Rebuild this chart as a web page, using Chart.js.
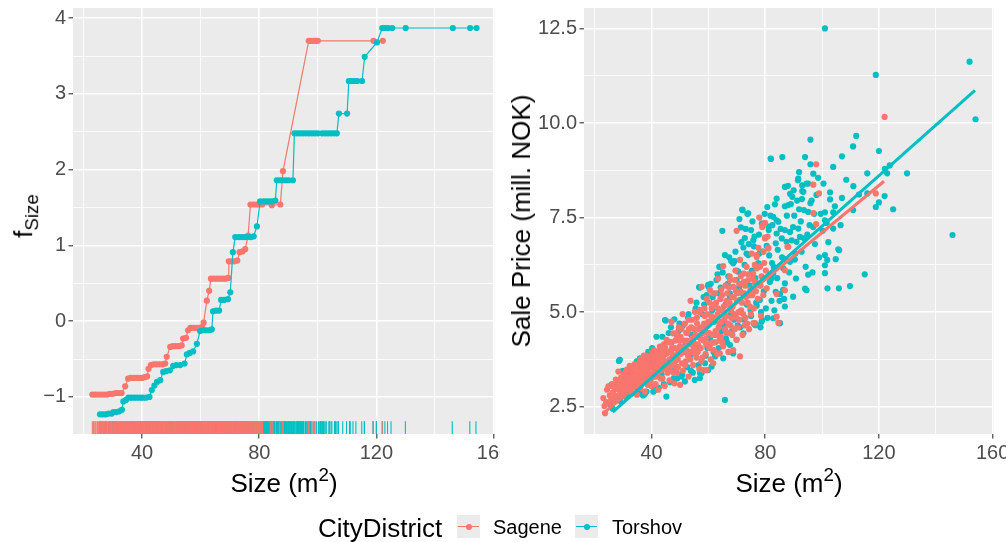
<!DOCTYPE html>
<html>
<head>
<meta charset="utf-8">
<script src="https://cdn.jsdelivr.net/npm/chart.js@4.4.1/dist/chart.umd.min.js"></script>
<style>
  html, body { margin: 0; padding: 0; background: #ffffff; }
  #page { position: relative; width: 1006px; height: 542px; overflow: hidden;
          font-family: "Liberation Sans", Arial, Helvetica, sans-serif; }
  canvas { position: absolute; top: 0; }
  .lbl { position: absolute; white-space: nowrap; color: #000; line-height: 1;
         transform: translate(-50%, -50%); }
  .rot { transform: translate(-50%, -50%) rotate(-90deg); }
  .title { font-size: 26px; }
  .lbl sub { font-size: 0.72em; vertical-align: -0.32em; }
  .lbl sup { font-size: 0.72em; vertical-align: 0.55em; }
  .legtxt { position: absolute; white-space: nowrap; line-height: 1; transform: translateY(-50%); color: #000; }
  .key { position: absolute; top: 515px; width: 23px; height: 23px; background: #EBEBEB; }
  .key .kl { position: absolute; left: 1px; right: 1px; top: 10.9px; height: 1.2px; }
  .key .kd { position: absolute; left: 8.5px; top: 8.5px; width: 6px; height: 6px; border-radius: 50%; }
</style>
</head>
<body>
<div id="page">
  <canvas id="effectChart" width="500" height="500" style="left:0px"></canvas>
  <canvas id="priceChart" width="506" height="500" style="left:500px"></canvas>

  <div class="lbl rot title" style="left:26px; top:216px;">f<sub>Size</sub></div>
  <div class="lbl title" style="left:284px; top:481px;">Size (m<sup>2</sup>)</div>
  <div class="lbl rot title" style="left:521px; top:221px;">Sale Price (mill. NOK)</div>
  <div class="lbl title" style="left:789px; top:481px;">Size (m<sup>2</sup>)</div>

  <div class="legtxt" style="left:318px; top:528px; font-size:26px;">CityDistrict</div>
  <div class="key" style="left:457px;"><span class="kl" style="background:#F8766D"></span><span class="kd" style="background:#F8766D"></span></div>
  <div class="legtxt" style="left:493px; top:527px; font-size:20px;">Sagene</div>
  <div class="key" style="left:575px;"><span class="kl" style="background:#00BFC4"></span><span class="kd" style="background:#00BFC4"></span></div>
  <div class="legtxt" style="left:612px; top:527px; font-size:20px;">Torshov</div>
</div>

<script>
// ---- districts ----
const districts = ['Sagene', 'Torshov'];

// ---- effect of size on price, per district: [size m2, f_Size] ----
const sageneEffect = [
  [23,-0.97],[24,-0.97],[25,-0.97],[26,-0.97],[27,-0.97],[28,-0.97],[29,-0.96],[30,-0.96],[31,-0.95],[32,-0.95],
  [33,-0.95],[34.2,-0.86],[35.2,-0.76],[36,-0.75],[37,-0.75],[38,-0.75],[39,-0.75],[40,-0.75],[41,-0.74],[41.7,-0.73],
  [42.2,-0.63],[43,-0.58],[44,-0.57],[45,-0.57],[46,-0.57],[47,-0.57],[47.9,-0.56],[48.4,-0.47],[49.6,-0.34],[50.5,-0.33],
  [51.5,-0.33],[52.5,-0.33],[53.5,-0.32],[54,-0.23],[55,-0.22],[55.7,-0.12],[56.5,-0.09],[57.5,-0.09],[58.5,-0.09],[59.5,-0.09],
  [60.5,-0.08],[61,-0.02],[62.1,0.27],[62.9,0.40],[63.5,0.56],[64.5,0.56],[65.5,0.56],[66.5,0.56],[67.5,0.56],[68.5,0.56],
  [69.4,0.57],[69.6,0.79],[70.5,0.79],[71.5,0.79],[72.5,0.80],[73.3,0.91],[74.3,0.92],[75.2,0.95],[76.2,1.13],[77,1.54],
  [78,1.54],[79,1.54],[80,1.54],[81,1.54],[84.3,1.53],[87.2,1.54],[88.1,1.98],[96.9,3.70],[97.7,3.70],[98.5,3.70],
  [99.3,3.70],[100,3.70],[119,3.70],[122.2,3.70]
];
const torshovEffect = [
  [25.6,-1.23],[26.5,-1.23],[27.5,-1.23],[28.5,-1.22],[29.6,-1.22],[30.2,-1.20],[31.2,-1.20],[32.2,-1.19],[33.1,-1.17],[33.6,-1.06],
  [34.5,-1.04],[35.3,-1.01],[36.3,-1.01],[37.3,-1.01],[38.3,-1.01],[39.3,-1.01],[40.3,-1.01],[41.3,-1.01],[42.5,-1.00],[43.3,-0.91],
  [44.2,-0.85],[45.1,-0.80],[46.2,-0.78],[47.2,-0.67],[48.2,-0.66],[49.5,-0.65],[50.6,-0.59],[51.7,-0.58],[53,-0.58],[54.5,-0.56],
  [55.3,-0.44],[56.3,-0.42],[57.4,-0.40],[58.7,-0.30],[59.8,-0.13],[61,-0.12],[62,-0.12],[63,-0.12],[63.8,-0.11],[64.2,0.13],
  [65.3,0.14],[66.3,0.14],[67,0.28],[68,0.28],[69.3,0.29],[70.1,0.38],[71,0.91],[71.8,1.11],[73,1.11],[74,1.11],
  [75,1.11],[76,1.11],[77.2,1.11],[78.1,1.12],[79.2,1.25],[80.3,1.58],[81.5,1.58],[82.5,1.58],[83.5,1.58],[84.5,1.58],
  [85.5,1.59],[86,1.86],[87,1.86],[88,1.86],[89,1.86],[90,1.86],[91.5,1.86],[92,2.48],[93,2.48],[94,2.48],
  [95,2.48],[96,2.48],[97,2.48],[98,2.48],[99,2.48],[100,2.48],[101.5,2.48],[102.5,2.48],[103.5,2.48],[104.5,2.48],
  [105.5,2.48],[106.5,2.48],[107.2,2.74],[110,2.74],[110.6,3.17],[111.5,3.17],[112.5,3.17],[113.5,3.17],[115.1,3.17],[116,3.49],
  [120.2,3.68],[122,3.87],[123,3.87],[124,3.87],[125.4,3.87],[130,3.87],[146.1,3.87],[152,3.87],[154.2,3.87]
];

// ---- sales: [size m2, sale price in mill. NOK] ----
const sageneSales = [
  [23.0,2.73],[23.4,2.52],[23.6,2.33],[24.0,2.62],[24.3,2.95],[24.8,3.04],[25.0,2.58],[25.3,2.80],[25.8,2.70],[26.0,3.10],
  [26.4,2.88],[26.8,2.64],[27.0,3.00],[27.4,3.22],[27.8,2.78],[28.0,2.96],[28.3,3.43],[28.6,3.10],[29.0,2.85],[29.3,3.28],
  [29.7,3.05],[30.0,2.80],[30.2,3.35],[30.6,3.15],
  [31.0,2.92],[31.3,3.48],[31.6,3.20],[32.0,3.05],[32.3,3.58],[32.6,3.30],[33.0,2.88],[33.2,3.42],[33.6,3.15],[34.0,3.62],
  [34.1,3.04],[34.5,3.35],[34.8,2.82],[35.0,3.50],[35.4,3.22],[35.8,3.68],[36.0,3.00],[36.3,3.40],[36.7,3.12],[37.0,3.74],
  [37.2,3.55],[37.6,2.90],[38.0,3.30],[38.3,3.62],[38.6,3.08],[39.0,3.45],[39.3,3.80],[39.6,3.18],[40.0,3.92],[40.0,3.04],
  [40.3,3.55],
  [40.7,3.30],[41.0,3.72],[41.4,3.10],[41.8,3.95],[42.0,3.45],[42.3,2.95],[42.6,3.65],[42.9,4.09],[43.2,3.25],[43.6,3.80],
  [44.0,3.50],[44.3,4.15],[44.6,3.05],[45.0,3.70],[45.3,4.27],[45.6,3.40],[46.0,3.95],[46.3,3.20],[46.7,4.20],[47.0,4.75],
  [47.0,3.60],[47.4,3.85],[47.6,4.44],[48.0,3.12],[48.2,4.05],[48.6,3.55],[49.0,4.35],[49.2,3.75],[49.6,4.60],[50.0,3.08],
  [50.0,4.10],[50.3,3.90],[50.9,4.95],
  [51.0,3.45],[51.3,4.25],[51.7,4.70],[52.0,3.70],[52.3,4.00],[52.6,4.45],[53.0,3.30],[53.2,4.80],[53.7,5.30],[54.0,3.95],
  [54.3,4.30],[54.6,3.60],[55.0,4.55],[55.2,5.01],[55.5,4.10],[55.8,3.80],[56.0,4.70],[56.4,4.35],[56.8,3.50],[57.0,5.06],
  [57.3,4.05],[57.6,4.60],[57.6,5.67],[58.1,3.47],[58.3,4.25],[58.7,4.90],[59.0,3.90],[59.4,3.47],[59.4,5.35],[59.8,4.45],
  [60.0,4.75],
  [60.3,4.05],[60.5,5.59],[60.8,3.75],[61.1,5.10],[61.4,4.40],[61.7,3.65],[61.7,5.50],[62.0,4.85],[62.3,4.20],[62.7,5.25],
  [63.0,3.90],[63.4,5.89],[63.6,4.60],[64.0,3.91],[64.0,5.05],[64.4,4.35],[64.8,5.45],[65.2,6.22],[65.2,4.10],[65.6,4.80],
  [66.0,5.70],[66.3,4.45],[66.8,5.20],[67.0,3.95],[67.5,5.94],[67.6,5.85],[67.8,4.65],[68.2,5.40],[68.7,4.00],[68.7,5.67],
  [69.0,4.95],[69.5,6.10],[69.9,4.27],[69.9,7.15],[70.0,5.30],
  [70.4,4.60],[70.8,5.75],[71.1,6.38],[71.1,3.83],[71.5,5.05],[72.0,4.40],[72.3,6.02],[72.6,5.50],[73.0,4.85],[73.4,6.20],
  [73.8,5.25],[74.0,5.85],[74.3,4.55],[74.8,5.60],[75.2,6.55],[75.7,6.02],[75.8,4.71],[76.0,5.10],[76.4,4.71],[76.9,6.51],
  [77.0,6.46],[77.0,5.76],[77.0,6.16],[77.4,5.35],[77.9,7.50],[78.1,6.22],[78.1,6.20],[78.5,4.90],[78.9,7.25],[79.1,7.30],
  [79.3,5.45],[79.9,6.95],[79.9,7.36],[79.9,6.97],[80.5,5.63],
  [81.0,6.71],[81.1,6.68],[84.0,4.88],[84.0,5.48],[84.6,4.72],[86.9,6.11],[86.9,5.58],[87.8,6.73],[88.1,6.73],[96.9,8.37],
  [96.9,7.62],[97.9,8.91],[97.9,7.33],[98.9,8.14],[118.9,8.14],[122.0,10.16],
  [28.9,3.20],[29.5,2.95],[30.4,3.00],[31.2,3.30],[31.9,2.95],[32.8,3.45],[33.4,3.05],[33.9,3.30],[34.6,3.55],[35.2,3.10],
  [35.6,3.40],[36.1,3.75],[36.5,3.25],[36.9,3.50],[37.4,3.20],[37.8,3.45],[38.2,3.85],[38.8,3.35],[39.2,3.15],[39.8,3.60],
  [40.5,3.85],[41.2,3.45],[41.6,3.60],[42.2,3.30],[42.8,3.85],[43.4,3.55],[43.9,3.95],[44.5,3.70],[45.2,3.90],[45.8,3.65],
  [46.5,3.45],[46.9,3.95],[47.8,3.80],[48.4,4.25],[48.9,3.40],[49.4,3.95],[50.2,4.35],[50.7,3.65],[51.5,3.95],[52.2,4.45],
  [52.8,3.85],[53.4,4.15],[53.9,4.60],[54.8,4.05],[55.4,4.40],[56.2,3.95],[56.6,4.55],[57.2,4.30],[57.9,3.80],[58.5,4.70],
  [59.2,4.15],[59.6,4.95],[60.2,4.45],[60.9,4.90],[61.5,4.20],[62.1,5.20],[62.5,4.50],[63.2,4.95],[63.8,4.25],[64.2,5.35],
  [64.6,4.75],[65.4,5.15],[66.1,4.90],[66.6,5.50],[67.2,4.45],[67.4,5.25],[68.0,4.85],[68.5,5.15],[69.2,4.55],[69.7,5.55],
  [70.6,5.00],[71.3,5.55],[72.2,4.95],[72.9,5.70],[73.6,4.70],[74.6,5.15],[75.4,5.45],[76.2,5.80],[78.3,5.70],[79.6,6.30],
  [25.6,3.05],[26.2,2.85],[27.2,2.65],[27.9,3.15],[28.7,2.80],[29.2,3.05],[30.8,3.40],[31.5,3.05],[32.1,3.20],[32.9,3.00],
  [33.7,3.50],[34.3,3.20],[35.3,3.60],[35.9,3.30],
  [36.4,3.60],[36.8,3.35],[37.3,3.85],[37.9,3.60],[38.4,3.20],[38.9,3.75],[39.4,3.55],[39.9,3.30],[40.8,4.00],[41.3,3.85],
  [41.9,3.55],[42.4,3.75],[43.0,3.45],[43.3,4.00],[43.8,3.25],[44.2,3.85],[44.8,4.05],[45.4,3.55],[45.9,4.20],[46.4,3.75],
  [47.2,4.05],[47.7,3.40],[48.3,3.70],[48.8,4.45],[49.3,3.55],[49.9,4.25],
  [50.5,4.55],[51.1,4.05],[51.8,3.60],[52.4,4.25],[53.1,4.55],[53.6,3.75],[54.2,4.80],[54.7,4.20],[55.3,3.90],[55.9,4.85],
  [56.3,4.15],[56.9,5.00],[57.5,3.70],[58.0,4.45],[58.6,5.10],[59.1,4.30],[59.7,4.65],[60.4,5.25],[60.7,4.15],[61.3,4.75],
  [61.9,4.00],[62.4,5.50],[62.9,4.40],[63.3,5.10],[63.9,4.70],[64.5,5.60],[64.9,4.20],
  [65.5,5.00],[65.9,4.55],[66.4,5.30],[66.9,4.70],[67.3,5.65],[67.9,5.05],[68.4,4.40],[68.9,5.40],[69.3,5.85],[69.8,4.85],
  [70.3,5.50],[70.9,4.80],[71.4,5.95],[71.8,5.25],[72.4,5.80],[72.8,4.65],[73.2,5.40],[73.9,6.00],[74.4,5.45],[74.9,4.95],
  [75.6,5.90],[76.3,6.25],[76.7,5.55],[77.6,6.70],[78.7,5.95],[79.4,6.60],[80.2,6.10],[80.8,7.00]
];
const torshovSales = [
  [25.5,2.55],[26.3,2.45],[27.0,2.70],[27.5,3.10],[28.5,3.71],[28.8,3.74],[29.0,2.65],[30.0,2.90],[30.5,3.25],[31.0,2.75],
  [31.8,3.21],[32.5,3.40],[33.0,2.85],[33.5,3.55],[34.1,3.60],[34.5,3.10],[35.0,2.95],[35.9,3.78],[36.5,3.30],[37.0,2.80],
  [37.6,2.84],[38.2,2.90],[38.5,3.55],[39.0,3.70],[39.5,3.20],[40.6,2.90],
  [41.1,3.30],[41.7,4.35],[42.0,3.85],[42.5,3.00],[43.0,4.00],[43.5,3.35],[44.0,4.10],[44.7,4.79],[45.0,4.78],[45.2,2.77],
  [45.5,3.60],[46.0,4.45],[46.5,3.15],[47.0,4.20],[47.5,3.45],[48.0,4.81],[48.5,3.85],[49.0,3.25],[49.5,4.50],[50.0,3.95],
  [50.5,3.30],[51.0,4.65],[51.7,3.17],[52.0,4.15],[52.5,3.55],[53.0,4.95],[53.5,3.85],[54.0,4.40],[54.5,3.40],[55.2,3.21],
  [55.5,5.10],[56.0,4.05],[56.7,5.66],[57.0,5.65],[57.0,3.26],[57.0,3.39],[57.6,3.39],[58.0,4.60],[58.5,5.20],[59.0,3.85],
  [59.4,5.45],[59.9,3.47],[59.9,5.72],[60.0,5.67],[60.5,4.30],[61.1,3.56],[61.5,5.40],[62.0,4.75],[62.3,3.83],[62.8,5.85],
  [63.5,5.50],[63.8,6.20],[64.0,6.20],[64.5,4.50],[64.9,7.15],[65.2,3.78],[65.8,2.68],[65.8,6.51],[66.0,5.20],[66.5,4.20],
  [67.0,5.95],[67.5,5.50],[67.6,4.13],[67.6,5.41],[68.0,6.35],[68.7,3.91],[68.7,6.29],[69.0,4.80],[69.9,5.85],[69.9,4.27],
  [70.0,6.10],
  [70.5,6.07],[70.9,7.46],[71.0,5.32],[71.4,7.24],[71.9,7.71],[72.0,7.70],[72.3,6.71],[72.3,4.44],[72.3,5.45],[72.8,6.96],
  [73.4,6.55],[73.7,7.60],[74.0,7.61],[74.0,6.51],[74.5,5.70],[75.0,7.17],[75.0,4.90],[75.8,6.90],[76.0,6.74],[76.4,4.66],
  [76.5,5.90],[76.9,4.66],[77.0,5.17],[77.5,6.30],[78.1,5.32],[78.5,5.00],[78.7,4.75],[78.9,4.79],[79.0,6.60],[79.5,5.55],
  [80.7,7.78],[81.1,7.26],[81.2,7.17],[81.6,5.80],[81.9,9.06],[82.0,9.05],[82.2,5.30],[82.2,5.89],[82.5,7.30],[82.8,7.52],
  [82.8,6.02],[82.8,4.84],[83.7,6.82],[83.7,5.54],[84.0,7.43],[84.0,8.00],[84.0,7.08],[84.6,7.39],[84.9,4.71],[85.2,5.48],
  [85.2,4.71],[86.0,9.10],[86.3,6.16],[86.3,5.59],[86.9,7.80],[86.9,7.17],[86.9,5.15],[86.9,5.76],[86.9,8.31],[87.5,6.86],
  [88.0,8.34],[88.1,7.83],[88.7,8.13],[88.7,7.12],[88.7,6.33],[89.0,7.86],[89.8,7.25],[89.8,5.41],[90.0,8.22],[90.4,6.39],
  [90.8,5.89],[91.0,6.86],[91.5,8.49],[91.6,7.21],[91.6,8.53],[91.9,8.70],[91.9,7.72],[92.2,6.99],[92.9,7.99],[93.0,8.35],
  [93.0,8.20],[93.4,8.18],[93.7,6.95],[94.0,5.62],[94.0,9.10],[94.5,8.40],[94.5,5.58],[95.1,5.99],[95.1,7.65],[95.1,8.40],
  [95.9,9.56],[95.9,8.91],[95.9,7.88],[96.9,8.66],[96.9,7.25],[97.5,6.80],
  [99.0,6.45],[101.0,12.50],[101.0,6.51],[101.0,6.24],[101.0,6.03],[101.0,7.43],[101.0,7.64],[101.6,7.36],[101.8,6.38],[101.9,5.63],
  [102.8,8.17],[102.8,7.98],[103.9,8.84],[103.9,7.64],[103.9,7.21],[104.8,6.40],[105.7,6.66],[105.9,5.63],[106.0,6.64],[107.0,9.12],
  [107.0,8.02],[109.8,5.69],[110.9,9.38],[110.9,7.70],[111.0,8.33],[112.0,9.66],[113.0,8.11],[115.0,6.00],[115.9,8.67],[115.9,8.14],
  [118.9,11.27],[118.9,7.78],[120.0,9.26],[120.0,7.90],[122.0,8.07],[122.1,8.79],[122.9,8.67],[123.8,8.88],[125.0,7.72],[129.9,8.67],
  [145.9,7.04],[151.9,11.62],[154.0,10.10],
  [29.8,3.45],[32.0,2.80],[34.8,3.70],[36.2,2.85],[38.8,3.95],[40.2,4.05],[41.5,2.95],[43.8,4.35],[44.3,3.10],[46.8,4.60],
  [47.8,3.25],[49.8,4.70],[50.8,3.35],[52.8,4.85],[53.8,3.45],[55.8,5.25],[56.5,3.60],[58.3,5.40],[58.8,3.65],[60.8,5.75],
  [61.8,3.95],[63.2,6.00],[63.6,4.05],[65.0,6.05],[66.2,4.30],[67.3,6.45],[68.3,4.50],[69.5,6.60],[70.3,4.65],[71.6,6.85],
  [72.6,4.80],[73.1,7.20],[74.8,5.05],[75.5,7.40],[76.8,5.25],[77.8,7.05],[78.3,4.60],[79.8,7.60],[80.2,5.10],[81.4,6.50],
  [83.0,6.20],[84.4,6.65],[85.8,6.95],[87.2,6.40],[89.3,6.90],[90.2,7.55],[92.5,7.40],[94.8,7.05],[96.3,7.95],[98.0,8.10],
  [99.5,7.60],[100.5,8.40],[83.2,5.05],[85.0,5.30],[80.8,4.85],
  [57.8,4.95],[59.6,4.05],[61.3,5.05],[62.6,4.40],[64.3,5.65],[65.5,4.65],[66.8,5.75],[67.9,4.95],[69.2,6.35],[70.8,5.65],
  [71.2,4.60],[72.7,6.25],[73.5,5.20],[74.2,6.80],[75.3,6.10],[76.2,7.00],[77.2,5.75],[77.9,6.55],[78.8,7.35],[79.3,5.90],
  [80.5,6.75],[81.8,7.55],[82.4,6.30],[83.4,7.85],[84.2,5.90],[85.4,7.20],[85.9,6.45],[86.6,5.35],[87.6,7.55],[88.4,6.05],
  [89.5,8.05],[90.6,6.55],[91.2,7.95],[92.8,6.60],[93.6,7.70],[94.2,6.20],[95.6,7.30],[96.6,6.05],[97.2,7.60],[98.6,8.55],
  [100.2,7.15],[102.2,6.85],[104.5,7.80],[106.5,7.30],[108.5,8.50]
];

// ---- fitted linear trend per district: [size, price] at the ends of the fitted range ----
const sageneFit  = [[22.8, 2.31], [121.8, 8.46]];
const torshovFit = [[26.3, 2.36], [153.8, 10.86]];

// ---- axes: grid positions and the labelled ones ----
const sizeGrid      = [20, 40, 60, 80, 100, 120, 140, 160];
const sizeLabels    = [40, 80, 120, 160];
const effectGrid    = [-1, -0.5, 0, 0.5, 1, 1.5, 2, 2.5, 3, 3.5, 4];
const effectLabels  = [-1, 0, 1, 2, 3, 4];
const priceGrid     = [2.5, 3.75, 5, 6.25, 7.5, 8.75, 10, 11.25, 12.5];
const priceLabels   = [2.5, 5, 7.5, 10, 12.5];

const COLORS = { Sagene: '#F8766D', Torshov: '#00BFC4' };
const FONT = '"Liberation Sans", Arial, Helvetica, sans-serif';

Chart.defaults.font.family = FONT;
Chart.defaults.animation = false;

// grey panel behind the plotting area
const panelBackground = {
  id: 'panelBackground',
  beforeDraw(chart) {
    const { ctx, chartArea: a } = chart;
    ctx.save();
    ctx.fillStyle = '#EBEBEB';
    ctx.fillRect(a.left, a.top, a.right - a.left, a.bottom - a.top);
    ctx.restore();
  }
};

// rug of observed sizes along the bottom of the panel
const sizeRug = {
  id: 'sizeRug',
  beforeDatasetsDraw(chart, args, opts) {
    const { ctx, chartArea: a, scales } = chart;
    const len = (a.bottom - a.top) * 0.03;
    ctx.save();
    ctx.beginPath();
    ctx.rect(a.left, a.top, a.right - a.left, a.bottom - a.top);
    ctx.clip();
    ctx.lineWidth = 1.1;
    opts.groups.forEach(g => {
      ctx.strokeStyle = g.color;
      g.sizes.forEach(s => {
        const x = scales.x.getPixelForValue(s);
        ctx.beginPath();
        ctx.moveTo(x, a.bottom);
        ctx.lineTo(x, a.bottom - len);
        ctx.stroke();
      });
    });
    ctx.restore();
  }
};

function fmt(v, labelled, text) {
  const i = labelled.indexOf(v);
  return i >= 0 ? text(v) : '';
}

function makeAxis(kind, min, max, grid, labelled, text, fitSize) {
  return {
    type: 'linear',
    min, max,
    afterBuildTicks(scale) { scale.ticks = grid.map(v => ({ value: v })); },
    afterFit(scale) {
      if (kind === 'x') scale.height = fitSize; else scale.width = fitSize;
      // edge labels may overhang the panel; keep the panel edges fixed
      scale.paddingLeft = 0; scale.paddingRight = 0;
      scale.paddingTop = 0; scale.paddingBottom = 0;
    },
    border: { display: false },
    grid: {
      color: '#FFFFFF',
      lineWidth: c => (labelled.includes(c.tick.value) ? 1.6 : 0.8),
      drawTicks: true,
      tickLength: 4.5,
      tickWidth: 1.1,
      tickColor: c => (labelled.includes(c.tick.value) ? '#333333' : 'rgba(0,0,0,0)')
    },
    ticks: {
      autoSkip: false,
      maxRotation: 0,
      padding: 2.5,
      color: '#4D4D4D',
      font: { size: 20, family: FONT },
      callback: v => fmt(v, labelled, text)
    }
  };
}

const toPoints = arr => arr.map(([x, y]) => ({ x, y }));

// left: size effect curves
new Chart(document.getElementById('effectChart'), {
  type: 'scatter',
  data: {
    datasets: [
      { label: districts[1], data: toPoints(torshovEffect), showLine: true, order: 1,
        borderColor: COLORS.Torshov, backgroundColor: COLORS.Torshov, borderWidth: 1.2,
        pointRadius: 3.1, pointBorderWidth: 0 },
      { label: districts[0], data: toPoints(sageneEffect), showLine: true, order: 2,
        borderColor: COLORS.Sagene, backgroundColor: COLORS.Sagene, borderWidth: 1.2,
        pointRadius: 3.1, pointBorderWidth: 0 }
    ]
  },
  options: {
    responsive: false,
    events: [],
    layout: { padding: { left: 0, right: 5, top: 8, bottom: 0 } },
    plugins: {
      legend: { display: false }, tooltip: { enabled: false },
      sizeRug: { groups: [
        { color: COLORS.Torshov, sizes: torshovSales.map(p => p[0]) },
        { color: COLORS.Sagene,  sizes: sageneSales.map(p => p[0]) }
      ] }
    },
    scales: {
      x: makeAxis('x', 16.4, 160.5, sizeGrid, sizeLabels, v => String(v), 66),
      y: makeAxis('y', -1.49, 4.134, effectGrid, effectLabels,
                  v => (v < 0 ? '\u2212' + Math.abs(v) : String(v)), 73)
    }
  },
  plugins: [panelBackground, sizeRug]
});

// right: sale price against size with fitted lines
new Chart(document.getElementById('priceChart'), {
  type: 'scatter',
  data: {
    datasets: [
      { label: districts[1] + ' fit', data: toPoints(torshovFit), showLine: true, order: 1,
        borderColor: COLORS.Torshov, borderWidth: 3, pointRadius: 0 },
      { label: districts[0] + ' fit', data: toPoints(sageneFit), showLine: true, order: 2,
        borderColor: COLORS.Sagene, borderWidth: 3, pointRadius: 0 },
      { label: districts[0], data: toPoints(sageneSales), order: 3,
        backgroundColor: COLORS.Sagene, pointRadius: 3.1, pointBorderWidth: 0 },
      { label: districts[1], data: toPoints(torshovSales), order: 4,
        backgroundColor: COLORS.Torshov, pointRadius: 3.1, pointBorderWidth: 0 }
    ]
  },
  options: {
    responsive: false,
    events: [],
    layout: { padding: { left: 0, right: 12, top: 8, bottom: 0 } },
    plugins: { legend: { display: false }, tooltip: { enabled: false } },
    scales: {
      x: makeAxis('x', 16.2, 160.5, sizeGrid, sizeLabels, v => String(v), 66),
      y: makeAxis('y', 1.78, 13.04, priceGrid, priceLabels, v => v.toFixed(1), 84)
    }
  },
  plugins: [panelBackground]
});
</script>
</body>
</html>
